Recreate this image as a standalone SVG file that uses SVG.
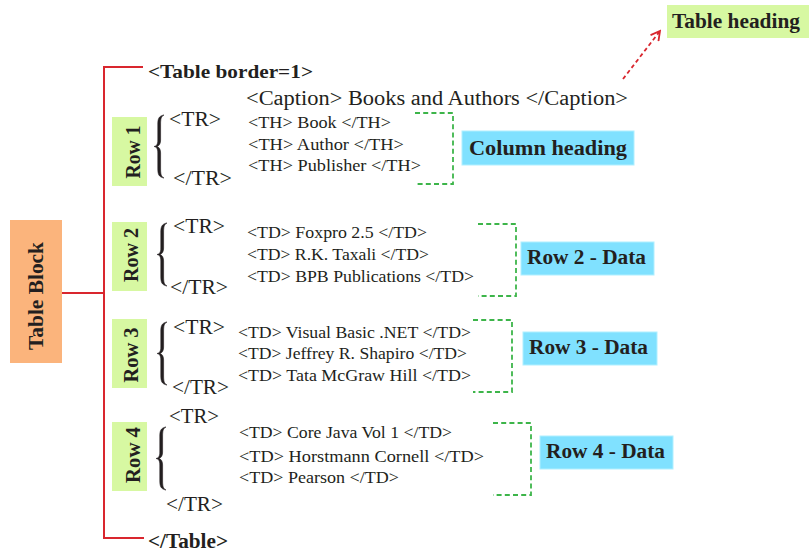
<svg xmlns="http://www.w3.org/2000/svg" xmlns:xlink="http://www.w3.org/1999/xlink" width="809" height="553" viewBox="0 0 809 553">
<style>
text{font-family:"Liberation Serif","DejaVu Serif",serif;fill:#231f20}
.b{font-weight:bold}
.lbl{font-weight:bold;font-size:20px}
.tag{font-size:20px}
.ln{font-size:17px}
.red{stroke:#d9262e;stroke-width:2;fill:none}
.gd{stroke:#3db54a;stroke-width:1.8;fill:none;stroke-dasharray:5 3.2}
.green{fill:#d7f8a2}
.blue{fill:#80e1ff;stroke:#b0efff;stroke-width:1}
.orange{fill:#fbb47c}
.brace{fill:#231f20;stroke:#231f20;stroke-width:0.6;stroke-linejoin:round}
</style>
<defs>
<path id="brace" class="brace" d="M10,0 C4.5,1 3.8,4 3.8,10 L3.8,25 C3.8,29.5 2.5,31 0,31.5 C2.5,32 3.8,33.5 3.8,38 L3.8,53 C3.8,59 4.5,62 10,63 C7,61.5 6.6,59 6.6,53 L6.6,38 C6.6,34 5.2,32.3 2.8,31.5 C5.2,30.7 6.6,29 6.6,25 L6.6,10 C6.6,4 7,1.5 10,0 Z"/>
<marker id="openArrow" markerWidth="12" markerHeight="12" refX="10" refY="6" orient="auto" markerUnits="userSpaceOnUse">
<path d="M1,1 L10,6 L1,11" fill="none" stroke="#d9262e" stroke-width="1.8"/>
</marker>
</defs>
<rect width="809" height="553" fill="#ffffff"/>

<g id="connectors">
<path class="red" d="M143,67 H104 V538 H144"/>
<path class="red" d="M62,293 H104"/>
<path class="gd" d="M415,113 H453 V184 H415"/>
<path class="gd" d="M478,224 H516 V296 H478"/>
<path class="gd" d="M473,320 H512 V392 H473"/>
<path class="gd" d="M493,423 H531 V495 H493"/>
<line x1="623" y1="79" x2="660" y2="31" stroke="#d9262e" stroke-width="1.8" stroke-dasharray="4 3" marker-end="url(#openArrow)"/>
</g>

<g id="table-block">
<rect class="orange" x="10" y="220" width="52" height="143"/>
<text class="b" font-size="21" text-anchor="middle" transform="translate(43,296) rotate(-90)" textLength="108" lengthAdjust="spacingAndGlyphs">Table Block</text>
</g>

<g id="table-open">
<text class="b" font-size="19.5" x="148" y="78" textLength="165" lengthAdjust="spacingAndGlyphs">&lt;Table border=1&gt;</text>
</g>

<g id="caption">
<text font-size="20" x="246" y="105" textLength="382" lengthAdjust="spacingAndGlyphs">&lt;Caption&gt; Books and Authors &lt;/Caption&gt;</text>
</g>

<g id="table-heading">
<rect class="green" x="667" y="5" width="142" height="33"/>
<text class="lbl" x="672" y="28" textLength="128" lengthAdjust="spacingAndGlyphs">Table heading</text>
</g>

<g id="row1">
<rect class="green" x="112" y="117" width="35" height="69"/>
<text class="lbl" text-anchor="middle" transform="translate(140,152) rotate(-90)" textLength="53" lengthAdjust="spacingAndGlyphs">Row 1</text>
<use xlink:href="#brace" x="154" y="115"/>
<text class="tag" x="169" y="126" textLength="52" lengthAdjust="spacingAndGlyphs">&lt;TR&gt;</text>
<text class="tag" x="173" y="185" textLength="59" lengthAdjust="spacingAndGlyphs">&lt;/TR&gt;</text>
<text class="ln" x="248" y="128" textLength="143" lengthAdjust="spacingAndGlyphs">&lt;TH&gt; Book &lt;/TH&gt;</text>
<text class="ln" x="248" y="150" textLength="156" lengthAdjust="spacingAndGlyphs">&lt;TH&gt; Author &lt;/TH&gt;</text>
<text class="ln" x="248" y="171" textLength="173" lengthAdjust="spacingAndGlyphs">&lt;TH&gt; Publisher &lt;/TH&gt;</text>
</g>

<g id="column-heading">
<rect class="blue" x="462" y="131" width="172" height="34"/>
<text class="lbl" x="469" y="154.5" textLength="158" lengthAdjust="spacingAndGlyphs">Column heading</text>
</g>

<g id="row2">
<rect class="green" x="112" y="222" width="35" height="69"/>
<text class="lbl" text-anchor="middle" transform="translate(138,255) rotate(-90)" textLength="54" lengthAdjust="spacingAndGlyphs">Row 2</text>
<use xlink:href="#brace" x="157" y="223"/>
<text class="tag" x="173" y="233" textLength="52" lengthAdjust="spacingAndGlyphs">&lt;TR&gt;</text>
<text class="tag" x="170" y="294" textLength="58" lengthAdjust="spacingAndGlyphs">&lt;/TR&gt;</text>
<text class="ln" x="247" y="238" textLength="180" lengthAdjust="spacingAndGlyphs">&lt;TD&gt; Foxpro 2.5 &lt;/TD&gt;</text>
<text class="ln" x="247" y="260" textLength="182" lengthAdjust="spacingAndGlyphs">&lt;TD&gt; R.K. Taxali &lt;/TD&gt;</text>
<text class="ln" x="247" y="282" textLength="227" lengthAdjust="spacingAndGlyphs">&lt;TD&gt; BPB Publications &lt;/TD&gt;</text>
</g>

<g id="row2-data">
<rect class="blue" x="521" y="242" width="133" height="33"/>
<text class="lbl" x="527" y="264" textLength="119" lengthAdjust="spacingAndGlyphs">Row 2 - Data</text>
</g>

<g id="row3">
<rect class="green" x="112" y="319" width="35" height="69"/>
<text class="lbl" text-anchor="middle" transform="translate(138,355) rotate(-90)" textLength="55" lengthAdjust="spacingAndGlyphs">Row 3</text>
<use xlink:href="#brace" x="157" y="322"/>
<text class="tag" x="173" y="334" textLength="52" lengthAdjust="spacingAndGlyphs">&lt;TR&gt;</text>
<text class="tag" x="172" y="394" textLength="57" lengthAdjust="spacingAndGlyphs">&lt;/TR&gt;</text>
<text class="ln" x="238" y="338" textLength="233" lengthAdjust="spacingAndGlyphs">&lt;TD&gt; Visual Basic .NET &lt;/TD&gt;</text>
<text class="ln" x="238" y="359" textLength="229" lengthAdjust="spacingAndGlyphs">&lt;TD&gt; Jeffrey R. Shapiro &lt;/TD&gt;</text>
<text class="ln" x="238" y="381" textLength="233" lengthAdjust="spacingAndGlyphs">&lt;TD&gt; Tata McGraw Hill &lt;/TD&gt;</text>
</g>

<g id="row3-data">
<rect class="blue" x="523" y="332" width="134" height="33"/>
<text class="lbl" x="529" y="354" textLength="119" lengthAdjust="spacingAndGlyphs">Row 3 - Data</text>
</g>

<g id="row4">
<rect class="green" x="112" y="422" width="35" height="69"/>
<text class="lbl" text-anchor="middle" transform="translate(140,455) rotate(-90)" textLength="56" lengthAdjust="spacingAndGlyphs">Row 4</text>
<use xlink:href="#brace" x="156" y="427"/>
<text class="tag" x="169" y="423" textLength="50" lengthAdjust="spacingAndGlyphs">&lt;TR&gt;</text>
<text class="tag" x="166" y="511" textLength="57" lengthAdjust="spacingAndGlyphs">&lt;/TR&gt;</text>
<text class="ln" x="239" y="438" textLength="213" lengthAdjust="spacingAndGlyphs">&lt;TD&gt; Core Java Vol 1 &lt;/TD&gt;</text>
<text class="ln" x="239" y="462" textLength="245" lengthAdjust="spacingAndGlyphs">&lt;TD&gt; Horstmann Cornell &lt;/TD&gt;</text>
<text class="ln" x="239" y="483" textLength="160" lengthAdjust="spacingAndGlyphs">&lt;TD&gt; Pearson &lt;/TD&gt;</text>
</g>

<g id="row4-data">
<rect class="blue" x="540" y="436" width="133" height="33"/>
<text class="lbl" x="546" y="458" textLength="119" lengthAdjust="spacingAndGlyphs">Row 4 - Data</text>
</g>

<g id="table-close">
<text class="b" font-size="20" x="148" y="548" textLength="80" lengthAdjust="spacingAndGlyphs">&lt;/Table&gt;</text>
</g>
</svg>
